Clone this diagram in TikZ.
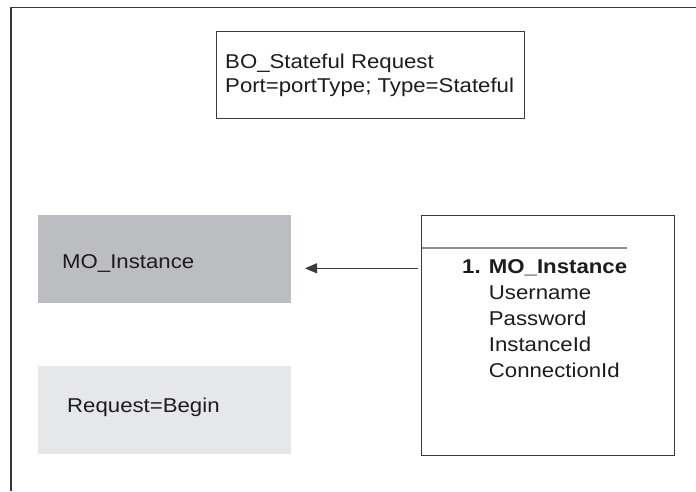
\documentclass[tikz,border=0pt]{standalone}
\usepackage{fontspec}
\setmainfont{Liberation Sans}[FakeStretch=1.11]
\usetikzlibrary{arrows.meta}
\definecolor{ink}{HTML}{1E1B1C}
\definecolor{edge}{HTML}{3A3A3A}
\definecolor{darkfill}{HTML}{BCBDC0}
\definecolor{lightfill}{HTML}{E6E7E8}
\definecolor{rulegray}{HTML}{8C8C8C}
\begin{document}
\begin{tikzpicture}[x=1pt,y=-1pt,
  box/.style={draw=edge,line width=1pt,rectangle,inner sep=0pt,outer sep=0pt},
  shadebox/.style={rectangle,inner sep=0pt,outer sep=0pt,draw=none},
  lbl/.style={anchor=base west,inner sep=0pt,text=ink,font=\fontsize{20}{25}\selectfont},
  boldlbl/.style={lbl,font=\fontsize{20}{25}\selectfont\bfseries}]
\useasboundingbox (0,0) rectangle (696,491);
% frame
\draw[edge,line width=1.2pt] (696,7.5) -- (11,7.5) -- (11,491);
% BO box
\node[box,minimum width=308pt,minimum height=87pt] (bo) at (370,75.2) {};
\node[lbl] (botitle) at (225,68) {BO\_Stateful Request};
\node[lbl] (boport) at (225,92.5) {Port=portType; Type=Stateful};
% MO box
\node[shadebox,fill=darkfill,minimum width=253pt,minimum height=87.7pt] (mo) at (164.5,258.9) {};
\node[lbl] (motext) at (62,268.5) {MO\_Instance};
% Request box
\node[shadebox,fill=lightfill,minimum width=253pt,minimum height=87.7pt] (req) at (164.5,409.9) {};
\node[lbl] (reqtext) at (67,412.5) {Request=Begin};
% right box
\node[box,minimum width=252.6pt,minimum height=240.4pt] (rbox) at (548,335.5) {};
\coordinate (ruleend) at (627,248);
\draw[rulegray,line width=1.5pt] (rbox.west |- ruleend) -- (ruleend);
\node[boldlbl] (item1) at (462,273.3) {1. MO\_Instance};
\node[lbl] (user) at (488.7,299.5) {Username};
\node[lbl] (pass) at (488.7,325.5) {Password};
\node[lbl] (inst) at (488.7,351.5) {InstanceId};
\node[lbl] (conn) at (488.7,377.5) {ConnectionId};
% arrow
\coordinate (tip) at (305,268.3);
\draw[edge,line width=1pt,-{Triangle[length=12pt,width=10pt]}] ([xshift=-3.4pt]rbox.west |- tip) -- (tip);
\end{tikzpicture}
\end{document}
